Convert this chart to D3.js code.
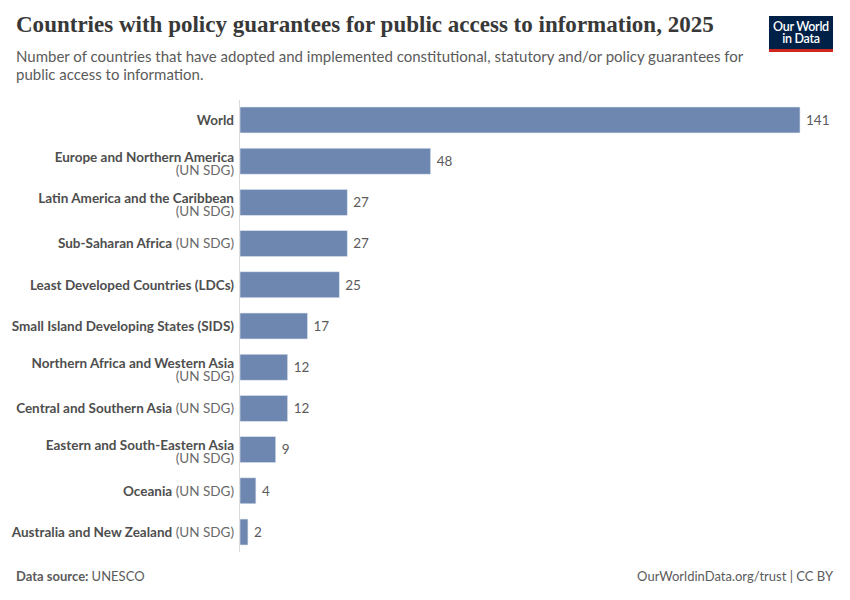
<!DOCTYPE html>
<html>
<head>
<meta charset="utf-8">
<script src="https://cdn.jsdelivr.net/npm/d3@7"></script>
<style>
  body { margin: 0; background: #fff; }
  text { font-family: Lato, "Noto Sans", sans-serif; }
</style>
</head>
<body>
<div id="chart"></div>
<script>
// Data
const regions = [
  "World",
  "Europe and Northern America",
  "Latin America and the Caribbean",
  "Sub-Saharan Africa",
  "Least Developed Countries (LDCs)",
  "Small Island Developing States (SIDS)",
  "Northern Africa and Western Asia",
  "Central and Southern Asia",
  "Eastern and South-Eastern Asia",
  "Oceania",
  "Australia and New Zealand"
];
const suffixes = ["", "(UN SDG)", "(UN SDG)", "(UN SDG)", "", "", "(UN SDG)", "(UN SDG)", "(UN SDG)", "(UN SDG)", "(UN SDG)"];
const countries = [141, 48, 27, 27, 25, 17, 12, 12, 9, 4, 2];

const width = 850;
const height = 600;
const barColor = "#6d87b1";

const svg = d3.select("#chart")
  .append("svg")
  .attr("width", width)
  .attr("height", height);

// Title
const title = svg.append("text")
  .attr("x", 16)
  .attr("y", 32)
  .attr("fill", "#383838")
  .style("font-family", "'Liberation Serif', 'DejaVu Serif', serif")
  .style("font-weight", 700)
  .style("font-size", "25px")
  .text("Countries with policy guarantees for public access to information, 2025");
// scale the title to the width it has in the reference
const tw = title.node().getComputedTextLength();
title.style("font-size", (25 * 698 / tw) + "px");

// Subtitle
const subtitle = svg.append("text")
  .attr("fill", "#5b5b5b")
  .style("font-size", "15px");
subtitle.append("tspan").attr("x", 16).attr("y", 62)
  .text("Number of countries that have adopted and implemented constitutional, statutory and/or policy guarantees for");
subtitle.append("tspan").attr("x", 16).attr("y", 80)
  .text("public access to information.");

// Logo
const logo = svg.append("g").attr("transform", "translate(769,16)");
logo.append("rect").attr("width", 64).attr("height", 36).attr("fill", "#002147");
logo.append("rect").attr("y", 33).attr("width", 64).attr("height", 3).attr("fill", "#ce261e");
logo.append("text").attr("x", 32).attr("y", 15).attr("text-anchor", "middle")
  .attr("fill", "#fff").style("font-size", "12.5px").style("font-weight", 600)
  .style("letter-spacing", "-0.3px")
  .text("Our World");
logo.append("text").attr("x", 32).attr("y", 27).attr("text-anchor", "middle")
  .attr("fill", "#fff").style("font-size", "12.5px").style("font-weight", 600)
  .style("letter-spacing", "-0.3px")
  .text("in Data");

// Scales
const x = d3.scaleLinear()
  .domain([0, d3.max(countries)])
  .range([240, 800]);

const y = d3.scaleBand()
  .domain(regions)
  .range([100, 552])
  .paddingInner(0.37)
  .paddingOuter(0.17);

// Vertical baseline
svg.append("line")
  .attr("x1", x(0) - 0.5).attr("x2", x(0) - 0.5)
  .attr("y1", 100).attr("y2", 552)
  .attr("stroke", "#dadada")
  .attr("stroke-width", 1);

// Bars
svg.append("g")
  .selectAll("rect")
  .data(regions)
  .join("rect")
  .attr("x", x(0))
  .attr("y", d => y(d))
  .attr("width", (d, i) => x(countries[i]) - x(0))
  .attr("height", y.bandwidth())
  .attr("fill", barColor)
  .attr("stroke", "#dfe5ee")
  .attr("stroke-width", 0.6);

// Value labels
svg.append("g")
  .selectAll("text")
  .data(regions)
  .join("text")
  .attr("x", (d, i) => x(countries[i]) + 6)
  .attr("y", d => y(d) + y.bandwidth() / 2)
  .attr("dy", "0.35em")
  .attr("fill", "#5b5b5b")
  .style("font-size", "13.5px")
  .text((d, i) => countries[i]);

// Category labels
const labelRight = 234;
const labels = svg.append("g");
regions.forEach((name, i) => {
  const cy = y(name) + y.bandwidth() / 2;
  const t = labels.append("text")
    .attr("text-anchor", "end")
    .attr("fill", "#4e4e4e")
    .style("font-size", "13.5px");
  t.append("tspan").attr("x", labelRight).attr("y", cy).attr("dy", "0.35em")
    .style("font-weight", 700).text(name);
  if (suffixes[i]) {
    const b = t.append("tspan").style("font-weight", 400).attr("fill", "#6a6a6a")
      .text(" " + suffixes[i]);
    if (t.node().getComputedTextLength() > 226) {
      // too long for one line: put the suffix on its own line below
      b.remove();
      labels.append("text")
        .attr("text-anchor", "end")
        .attr("x", labelRight).attr("y", cy + 13.5)
        .attr("fill", "#6a6a6a")
        .style("font-size", "13.5px")
        .text(suffixes[i]);
      t.select("tspan").attr("dy", null).attr("y", cy + 0.5);
    }
  }
});

// Footer
const source = svg.append("text")
  .attr("x", 16).attr("y", 581)
  .attr("fill", "#5b5b5b")
  .style("font-size", "13px");
source.append("tspan").style("font-weight", 700).text("Data source: ");
source.append("tspan").text("UNESCO");

svg.append("text")
  .attr("x", 833).attr("y", 581)
  .attr("text-anchor", "end")
  .attr("fill", "#5b5b5b")
  .style("font-size", "13px")
  .text("OurWorldinData.org/trust | CC BY");
</script>
</body>
</html>
